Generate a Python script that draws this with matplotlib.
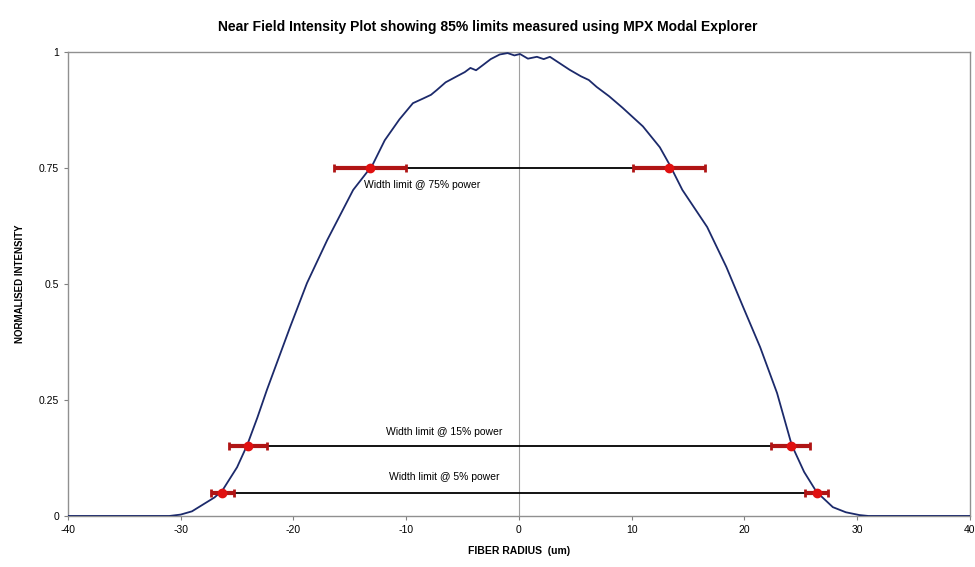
import matplotlib.pyplot as plt
import numpy as np

# near field profile
radius = [-40, -31, -30, -29, -28, -27, -26.3, -25, -24.1, -23.2, -22.35,
          -20.3, -18.8, -17.0, -14.7, -13.0, -11.9, -10.6, -9.4, -8.5, -7.8,
          -7.3, -6.5, -5.5, -4.8, -4.3, -3.8, -3.2, -2.5, -1.7, -1, -0.4, 0.1,
          0.8, 1.6, 2.2, 2.75, 3.5, 4.5, 5.5, 6.2, 6.9, 8, 9.2, 11, 12.5,
          13.4, 14.5, 16.7, 18.4, 19.9, 21.4, 22.9, 24.2, 25.3, 26.4, 27.85,
          29, 30.2, 31, 40]
intensity = [0, 0, 0.003, 0.01, 0.025, 0.04, 0.055, 0.105, 0.153, 0.212,
             0.272, 0.407, 0.502, 0.595, 0.703, 0.756, 0.81, 0.855, 0.89,
             0.9, 0.908, 0.918, 0.935, 0.948, 0.957, 0.966, 0.961, 0.972,
             0.985, 0.995, 0.998, 0.993, 0.996, 0.986, 0.99, 0.985, 0.99,
             0.978, 0.962, 0.948, 0.94, 0.925, 0.905, 0.88, 0.84, 0.795,
             0.756, 0.703, 0.623, 0.537, 0.45, 0.364, 0.265, 0.153, 0.095,
             0.052, 0.019, 0.008, 0.002, 0, 0]

# width limits
levels = [0.75, 0.15, 0.05]
left_x = [-13.2, -24.0, -26.3]
right_x = [13.3, 24.1, 26.4]
half_err = [3.2, 1.7, 1.0]
labels = ['Width limit @ 75% power', 'Width limit @ 15% power',
          'Width limit @ 5% power']
label_x = [-13.7, -6.6, -6.6]
label_y = [0.713, 0.181, 0.084]
label_ha = ['left', 'center', 'center']

plt.rcParams['font.family'] = ['Liberation Sans', 'DejaVu Sans']
plt.rcParams['axes.unicode_minus'] = False

fig = plt.figure(figsize=(9.75, 5.67), dpi=100)
ax = fig.add_axes([0.0697, 0.09, 0.925, 0.818])

ax.axvline(0, color='#a0a0a0', lw=0.8, zorder=1)
ax.plot(radius, intensity, color='#1c2a6b', lw=1.3, zorder=3)

for lv, lx, rx, e in zip(levels, left_x, right_x, half_err):
    ax.plot([lx, rx], [lv, lv], color='black', lw=1.3, zorder=2)
    ax.errorbar([lx, rx], [lv, lv], xerr=e, fmt='o', color='#e01010',
                ms=6, ecolor='#b01515', elinewidth=3, capsize=3,
                capthick=2, zorder=4)

for t, tx, ty, ha in zip(labels, label_x, label_y, label_ha):
    ax.text(tx, ty, t, ha=ha, va='center', fontsize=7.5, zorder=5)

ax.set_xlim(-40, 40)
ax.set_ylim(0, 1)
ax.set_xticks(np.arange(-40, 41, 10))
ax.set_yticks([0, 0.25, 0.5, 0.75, 1])
ax.set_yticklabels(['0', '0.25', '0.5', '0.75', '1'])
ax.tick_params(labelsize=7.5, length=3, color='#808080')
for s in ax.spines.values():
    s.set_color('#909090')
    s.set_linewidth(1.0)

ax.set_xlabel('FIBER RADIUS  (um)', fontsize=7.5, fontweight='bold', labelpad=8)
ax.set_ylabel('NORMALISED INTENSITY', fontsize=7, fontweight='bold', labelpad=10)
fig.suptitle('Near Field Intensity Plot showing 85% limits measured using MPX Modal Explorer',
             fontsize=10, fontweight='bold', y=0.965)

fig.savefig('out.png', dpi=100)
